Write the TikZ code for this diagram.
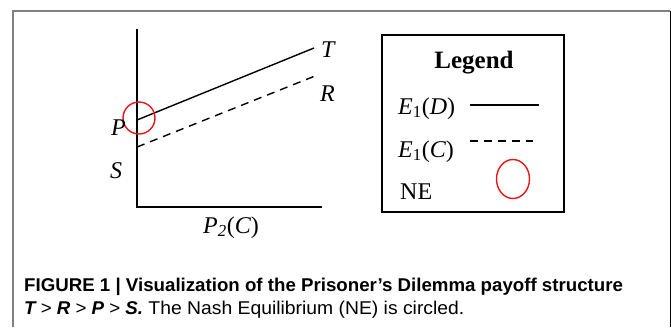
\documentclass[tikz,border=0pt]{standalone}
\usepackage{fontspec}
\setmainfont{Liberation Serif}
\newfontfamily\capfont[FakeStretch=1.01]{Liberation Sans}
\newfontfamily\capreg[FakeStretch=1.045]{Liberation Sans}
\usetikzlibrary{shapes.geometric}
\definecolor{framegray}{RGB}{128,128,128}
\definecolor{nered}{RGB}{235,20,20}
\begin{document}
\begin{tikzpicture}[x=1pt,y=-1pt,
  lbl/.style={font=\fontsize{24}{26}\selectfont, inner sep=0pt, anchor=base west},
  axis/.style={line width=1.6pt},
  payoff/.style={line width=1.4pt},
  necircle/.style={draw=nered, line width=1.4pt},
  captxt/.style={font=\capfont\fontsize{18.5}{20}\selectfont, inner sep=0pt, anchor=base west}]
\useasboundingbox (0,0) rectangle (671,327);
% outer frame
\draw[framegray, line width=1.6pt] (13,327) -- (13,11) -- (670,11);
\draw[black, line width=1pt] (670,11) -- (670,327);
% axes
\coordinate (ytop) at (137,29);
\coordinate (origin) at (137,207);
\coordinate (xend) at (322,207);
\draw[axis] (ytop) -- (origin) -- (xend);
% payoff lines
\coordinate (Dstart) at (137,120);
\coordinate (Dend) at (314,48);
\coordinate (Cstart) at (137,147);
\coordinate (Cend) at (315,76);
\draw[payoff] (Dstart) -- (Dend);
\draw[payoff, dash pattern=on 8pt off 6pt] (Cstart) -- (Cend);
\node[necircle, circle, minimum size=32pt, inner sep=0pt] (ne) at (139,118) {};
% labels
\node[lbl] (T) at (321,57) {\textit{T}};
\node[lbl] (R) at (320,101) {\textit{R}};
\node[lbl] (P) at (111,135) {\textit{P}};
\node[lbl] (S) at (110,178) {\textit{S}};
\node[lbl] (xl) at (203,233) {\textit{P}\textsubscript{\textit{2}}(\textit{C})};
% legend
\node[draw, line width=1.6pt, minimum width=182pt, minimum height=177pt, inner sep=0pt] (legend) at (473,123.5) {};
\node[font=\fontsize{25}{27}\selectfont\bfseries, inner sep=0pt, anchor=base] (lt) at (474,68) {Legend};
\node[lbl] (ed) at (398,114) {\textit{E}\textsubscript{1}(\textit{D})};
\node[lbl] (ec) at (398,157) {\textit{E}\textsubscript{1}(\textit{C})};
\node[lbl] (nel) at (400,199) {NE};
\coordinate (ld1) at (470,105);
\coordinate (ld2) at (539,105);
\coordinate (lc1) at (470,141);
\coordinate (lc2) at (533,141);
\draw[payoff] (ld1) -- (ld2);
\draw[payoff, dash pattern=on 8pt off 6pt] (lc1) -- (lc2);
\node[necircle, ellipse, minimum width=33pt, minimum height=39pt, inner sep=0pt] (nee) at (513,179) {};
% caption
\node[captxt] (c1) at (24,291) {\bfseries FIGURE 1 | Visualization of the Prisoner’s Dilemma payoff structure};
\node[captxt] (c2) at (24,314) {\bfseries\itshape T \normalfont\capfont > \bfseries\itshape R \normalfont\capfont > \bfseries\itshape P \normalfont\capfont > \bfseries\itshape S.\normalfont\capreg\ The Nash Equilibrium (NE) is circled.};
\end{tikzpicture}
\end{document}
